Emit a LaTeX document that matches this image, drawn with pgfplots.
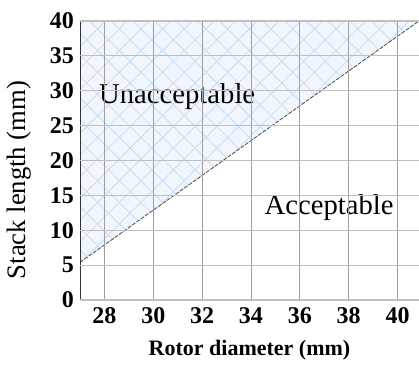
\documentclass[border=0pt]{standalone}
\usepackage{fontspec}
\setmainfont{Liberation Serif}
\usepackage{pgfplots}
\pgfplotsset{compat=1.18}
\usetikzlibrary{patterns.meta}
\definecolor{fillblue}{HTML}{F0F6FC}
\definecolor{hatchblue}{HTML}{C8DDF1}
\begin{document}
\begin{tikzpicture}
\begin{axis}[
  scale only axis,
  width=254.25pt, height=209.25pt,
  xmin=27, xmax=40.88, ymin=0, ymax=40,
  xtick={28,30,...,40}, ytick={0,5,...,40},
  axis line style={draw=none},
  tick style={draw=none},
  axis on top,
  grid=major,
  x grid style={gray!75, line width=0.6pt},
  y grid style={gray!50, line width=0.8pt},
  /pgf/number format/assume math mode=true,
  ticklabel style={font=\bfseries\fontsize{18}{18}\selectfont},
  xticklabel style={yshift=-2pt},
  yticklabel style={xshift=-1pt},
  xlabel={\bfseries Rotor diameter (mm)},
  xlabel style={font=\fontsize{16.5}{17}\selectfont, at={(axis description cs:0.5,0)}, anchor=center, yshift=-38pt},
  clip=true,
]
\addplot[draw=none, fill=fillblue] coordinates {(27,5.4) (40.88,40) (27,40)} -- cycle;
\addplot[draw=none, pattern={Lines[angle=45,distance=11.5pt,line width=0.6pt]}, pattern color=hatchblue] coordinates {(27,5.4) (40.88,40) (27,40)} -- cycle;
\addplot[draw=none, pattern={Lines[angle=-45,distance=11.5pt,line width=0.6pt]}, pattern color=hatchblue] coordinates {(27,5.4) (40.88,40) (27,40)} -- cycle;
\addplot[black!70, line width=0.6pt, dash pattern=on 3pt off 1pt] coordinates {(27,5.4) (40.88,40)};
\node[font=\fontsize{21.5}{22}\selectfont] at (axis cs:30.98,29.1) {Unacceptable};
\node[font=\fontsize{21.5}{22}\selectfont] at (axis cs:37.2,13.2) {Acceptable};
\draw[black, line width=1.3pt] (axis cs:27,40) -- (axis cs:40.88,40);
\draw[black, line width=1.1pt] (axis cs:27,0) -- (axis cs:40.88,0);
\draw[black!80, line width=0.6pt] (axis cs:27,0) -- (axis cs:27,40);
\end{axis}
\node[rotate=90, anchor=center, font=\fontsize{20}{20}\selectfont] at (-46pt,90pt) {Stack length (mm)};
\pgfresetboundingbox
\useasboundingbox (-60pt,-48.75pt) rectangle (254.25pt,225pt);
\end{tikzpicture}
\end{document}
